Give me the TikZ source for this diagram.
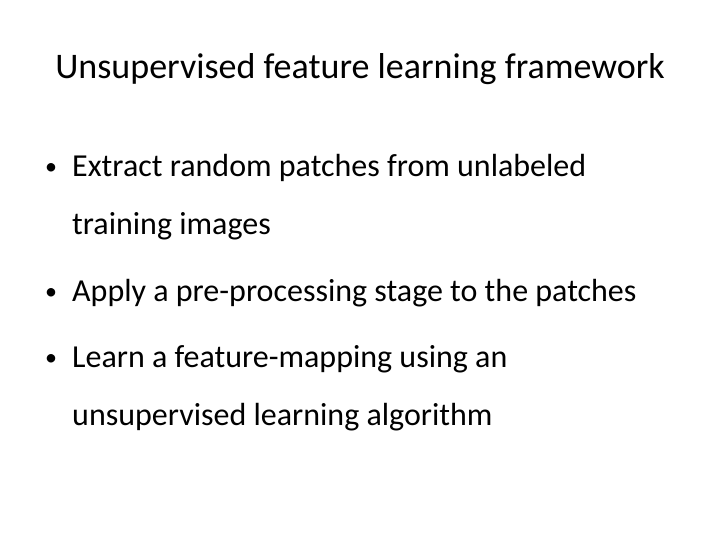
\documentclass[tikz,border=0pt]{standalone}
\usepackage{fontspec}
\setmainfont{Carlito}
\usepackage{tikz}
\begin{document}
\begin{tikzpicture}[x=1pt,y=1pt,yscale=-1,xscale=1]
  \tikzset{bullettext/.style={anchor=base west,inner sep=0pt,font=\fontsize{32}{38}\selectfont},
           bulletmark/.style={anchor=base,inner sep=0pt,font=\fontsize{24}{28}\selectfont}}
  \useasboundingbox (0,0) rectangle (720,540);

  % Title
  \node (title) [anchor=base,inner sep=0pt,font=\fontsize{36}{42}\selectfont] at (360,79) {Unsupervised feature learning framework};

  % Bullet items
  \node (m1) [bulletmark] at (51,175) {\textbullet};
  \node (b1) [bullettext] at (72,177) {Extract random patches from unlabeled};
  \node (b1b) [bullettext] at (72,235) {training images};
  \node (m2) [bulletmark] at (51,299) {\textbullet};
  \node (b2) [bullettext] at (72,301) {Apply a pre-processing stage to the patches};
  \node (m3) [bulletmark] at (51,365) {\textbullet};
  \node (b3) [bullettext] at (72,367) {Learn a feature-mapping using an};
  \node (b3b) [bullettext] at (72,425) {unsupervised learning algorithm};
\end{tikzpicture}
\end{document}
